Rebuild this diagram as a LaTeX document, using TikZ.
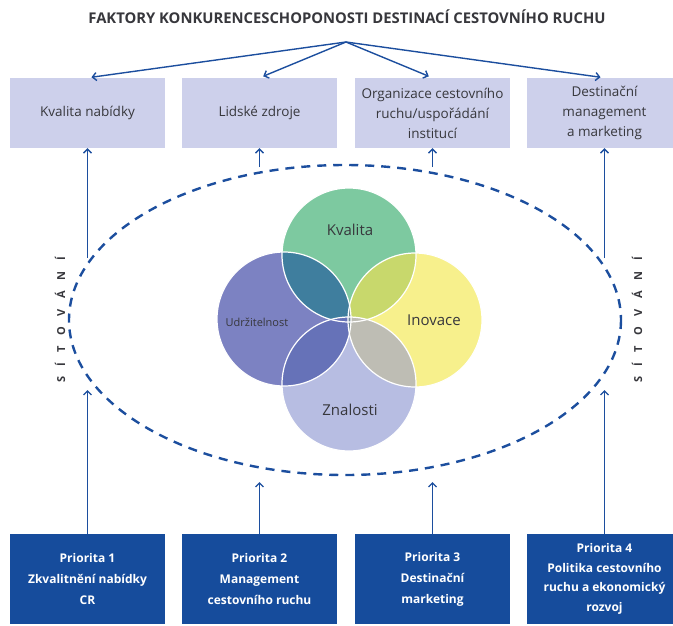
\documentclass[tikz,border=0pt]{standalone}
\usepackage{fontspec}
\setmainfont{Open Sans}
\usetikzlibrary{arrows.meta}

\definecolor{linka}{RGB}{28,78,158}
\definecolor{svetla}{RGB}{205,208,235}
\definecolor{tmava}{RGB}{22,76,156}
\definecolor{sedy}{RGB}{55,55,60}
\definecolor{kval}{RGB}{125,201,160}
\definecolor{inov}{RGB}{247,240,140}
\definecolor{udrz}{RGB}{124,130,194}
\definecolor{znal}{RGB}{183,189,226}
\definecolor{kvud}{RGB}{63,126,158}
\definecolor{kvin}{RGB}{200,216,108}
\definecolor{udzn}{RGB}{102,114,184}
\definecolor{inzn}{RGB}{190,189,180}
\definecolor{stred}{RGB}{110,135,150}

\newcommand{\sitovani}{S\kern10.5pt Í\kern10.5pt T\kern10.5pt O\kern10.5pt V\kern10.5pt Á\kern10.5pt N\kern10.5pt Í}

\begin{document}
\begin{tikzpicture}[x=1pt,y=-1pt]
\tikzstyle{faktor}=[fill=svetla,text=sedy,minimum width=155pt,minimum height=70pt,inner sep=0pt,align=center,font=\fontsize{13.5}{20}\selectfont]
\tikzstyle{priorita}=[fill=tmava,text=white,minimum width=155pt,minimum height=90pt,inner sep=0pt,align=center,font=\bfseries\fontsize{12}{21}\selectfont]
\tikzstyle{sipka}=[draw=linka,line width=1.4pt,-{Straight Barb[length=4pt,width=8pt]}]
\tikzstyle{kruh}=[draw=white,line width=1.2pt]
\tikzstyle{venn}=[text=sedy,font=\fontsize{15}{17}\selectfont]
\useasboundingbox (0,0) rectangle (673,625);

\node[text=sedy,font=\bfseries\fontsize{14.8}{16}\selectfont] (nadpis) at (347,17) {FAKTORY KONKURENCESCHOPONOSTI DESTINACÍ CESTOVNÍHO RUCHU};
\coordinate (zdroj) at (346,42);

% faktory
\node[faktor] (f1) at (87.5,113) {Kvalita nabídky};
\node[faktor] (f2) at (259.5,113) {Lidské zdroje};
\node[faktor] (f3) at (432.5,113) {Organizace cestovního\\ruchu/uspořádání\\institucí};
\node[faktor] (f4) at (604.5,113) {Destinační\\management\\a marketing};

% priority
\node[priorita] (p1) at (87.5,579) {Priorita 1\\Zkvalitnění nabídky\\CR};
\node[priorita] (p2) at (259.5,579) {Priorita 2\\Management\\cestovního ruchu};
\node[priorita] (p3) at (432.5,579) {Priorita 3\\Destinační\\marketing};
\node[priorita,font=\bfseries\fontsize{12}{19.5}\selectfont] (p4) at (604.5,579) {Priorita 4\\Politika cestovního\\ruchu a ekonomický\\rozvoj};

\draw[sipka,shorten >=4pt] (zdroj) -- (f1.north);
\draw[sipka,shorten >=4pt] (zdroj) -- (f2.north);
\draw[sipka,shorten >=4pt] (zdroj) -- (f3.north);
\draw[sipka,shorten >=4pt] (zdroj) -- (f4.north);

% sitovani
\draw[linka,line width=2.4pt,dash pattern=on 9pt off 7pt] (345,320) ellipse [x radius=276, y radius=155];

\coordinate (h1) at (87.5,258);
\coordinate (h2) at (259.5,167);
\coordinate (h3) at (432.5,167);
\coordinate (h4) at (604.5,258);
\coordinate (d1) at (87.5,390);
\coordinate (d2) at (259.5,482);
\coordinate (d3) at (432.5,482);
\coordinate (d4) at (604.5,390);

\draw[sipka] (h1) -- (f1.south);
\draw[sipka] (h2) -- (f2.south);
\draw[sipka] (h3) -- (f3.south);
\draw[sipka] (h4) -- (f4.south);
\draw[sipka] (p1.north) -- (d1);
\draw[sipka] (p2.north) -- (d2);
\draw[sipka] (p3.north) -- (d3);
\draw[sipka] (p4.north) -- (d4);

\node[rotate=90,text=sedy,font=\bfseries\fontsize{11}{11}\selectfont] (s1) at (60,320) {\sitovani};
\node[rotate=90,text=sedy,font=\bfseries\fontsize{11}{11}\selectfont] (s2) at (637,320) {\sitovani};

% kruhy
\coordinate (ck) at (349,255);
\coordinate (cu) at (284,319);
\coordinate (ci) at (415,320);
\coordinate (cz) at (349,384);
\fill[kval] (ck) circle (67);
\fill[inov] (ci) circle (67);
\fill[udrz] (cu) circle (67);
\fill[znal] (cz) circle (67);
\begin{scope}
\clip (ck) circle (67);
\fill[kvud] (cu) circle (67);
\fill[kvin] (ci) circle (67);
\fill[stred] (cz) circle (67);
\end{scope}
\begin{scope}
\clip (cz) circle (67);
\fill[udzn] (cu) circle (67);
\fill[inzn] (ci) circle (67);
\end{scope}
\begin{scope}
\clip (cu) circle (67);
\fill[stred] (ci) circle (67);
\end{scope}
\draw[kruh] (ck) circle (67);
\draw[kruh] (ci) circle (67);
\draw[kruh] (cu) circle (67);
\draw[kruh] (cz) circle (67);

\node[venn] (kvalita) at (350,230) {Kvalita};
\node[venn,font=\fontsize{11}{13}\selectfont] (udrzitelnost) at (257,322) {Udržitelnost};
\node[venn] (inovace) at (434,320) {Inovace};
\node[venn] (znalosti) at (350,410) {Znalosti};
\end{tikzpicture}
\end{document}
